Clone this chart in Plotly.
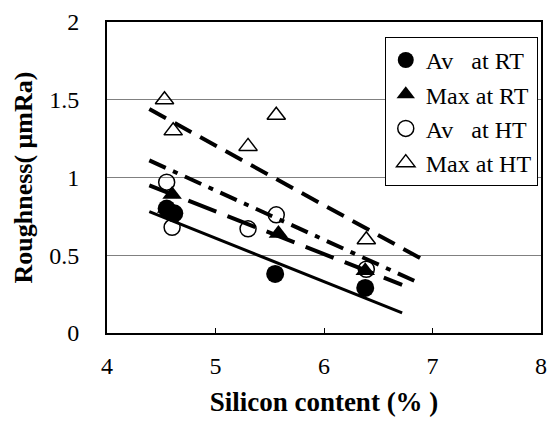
import plotly.graph_objects as go

# ---- data ----
av_rt_x = [4.55, 4.62, 5.55, 6.38]
av_rt_y = [0.80, 0.77, 0.38, 0.29]

max_rt_x = [4.55, 4.60, 5.58, 6.38]
max_rt_y = [0.80, 0.89, 0.64, 0.40]

av_ht_x = [4.55, 4.60, 5.30, 5.56, 6.39]
av_ht_y = [0.97, 0.68, 0.67, 0.76, 0.41]

max_ht_x = [4.53, 4.61, 5.30, 5.56, 6.39]
max_ht_y = [1.50, 1.30, 1.20, 1.40, 0.60]

# trend lines (end points)
av_rt_fit_x = [4.39, 6.72]
av_rt_fit_y = [0.78, 0.13]
max_rt_fit_x = [4.39, 6.72]
max_rt_fit_y = [0.95, 0.31]
av_ht_fit_x = [4.39, 6.85]
av_ht_fit_y = [1.11, 0.33]
max_ht_fit_x = [4.39, 6.89]
max_ht_fit_y = [1.44, 0.48]

x_ticks = [4, 5, 6, 7, 8]
y_ticks = [0, 0.5, 1, 1.5, 2]
y_tick_text = ["0", "0.5", "1", "1.5", "2"]

names = ["Av\u00a0\u00a0\u00a0at RT", "Max at RT", "Av\u00a0\u00a0\u00a0at HT", "Max at HT"]
x_title = "<b>Silicon content (% )</b>"
y_title = "<b>Roughness( μmRa)</b>"

FONT = "Liberation Serif, Times New Roman, serif"

fig = go.Figure()

# trend lines
fig.add_trace(go.Scatter(x=av_rt_fit_x, y=av_rt_fit_y, mode="lines",
                         line=dict(color="black", width=3), showlegend=False, hoverinfo="skip"))
fig.add_trace(go.Scatter(x=max_rt_fit_x, y=max_rt_fit_y, mode="lines",
                         line=dict(color="black", width=4, dash="30px,12px"), showlegend=False, hoverinfo="skip"))
fig.add_trace(go.Scatter(x=av_ht_fit_x, y=av_ht_fit_y, mode="lines",
                         line=dict(color="black", width=4, dash="18px,8px,5px,8px"), showlegend=False, hoverinfo="skip"))
fig.add_trace(go.Scatter(x=max_ht_fit_x, y=max_ht_fit_y, mode="lines",
                         line=dict(color="black", width=4, dash="19px,10px"), showlegend=False, hoverinfo="skip"))

# markers
fig.add_trace(go.Scatter(x=av_rt_x, y=av_rt_y, mode="markers", name=names[0],
                         marker=dict(symbol="circle", size=18, color="black")))
fig.add_trace(go.Scatter(x=max_rt_x, y=max_rt_y, mode="markers", name=names[1],
                         marker=dict(symbol="triangle-up", size=17, color="black")))
fig.add_trace(go.Scatter(x=av_ht_x, y=av_ht_y, mode="markers", name=names[2],
                         marker=dict(symbol="circle-open", size=16, color="black", line=dict(width=1.5))))
fig.add_trace(go.Scatter(x=max_ht_x, y=max_ht_y, mode="markers", name=names[3],
                         marker=dict(symbol="triangle-up-open", size=16, color="black", line=dict(width=1.5))))

fig.update_layout(
    width=556, height=437,
    margin=dict(l=107, r=9, t=22, b=104),
    paper_bgcolor="white", plot_bgcolor="white",
    font=dict(family=FONT, size=24, color="black"),
    showlegend=True,
    legend=dict(
        x=0.64, y=0.952, xanchor="left", yanchor="top",
        bgcolor="white", bordercolor="black", borderwidth=1,
        font=dict(family=FONT, size=24, color="black"),
        tracegroupgap=0, itemwidth=30,
    ),
    annotations=[dict(
        text=y_title, textangle=-90, xref="paper", yref="paper",
        x=0, y=0.5, xanchor="center", yanchor="middle", xshift=-84, showarrow=False,
        font=dict(family=FONT, size=26, color="black"),
    )],
)

fig.update_xaxes(
    range=[4, 8], tickvals=x_ticks, ticktext=[str(v) for v in x_ticks],
    ticks="inside", ticklen=5, tickcolor="black", tickwidth=1,
    showline=True, linecolor="black", linewidth=2, mirror=True,
    showgrid=False, zeroline=False,
    tickfont=dict(family=FONT, size=24, color="black"),
    ticklabelstandoff=10,
    title=dict(text=x_title, font=dict(family=FONT, size=27, color="black"), standoff=14),
)
fig.update_yaxes(
    range=[0, 2], tickvals=y_ticks, ticktext=y_tick_text,
    ticks="outside", ticklen=21, tickcolor="rgba(0,0,0,0)", tickwidth=1,
    showline=True, linecolor="black", linewidth=2, mirror=True,
    showgrid=True, gridcolor="#808080", gridwidth=1, zeroline=False,
    tickfont=dict(family=FONT, size=24, color="black"),
)

fig.write_html("out.html")
